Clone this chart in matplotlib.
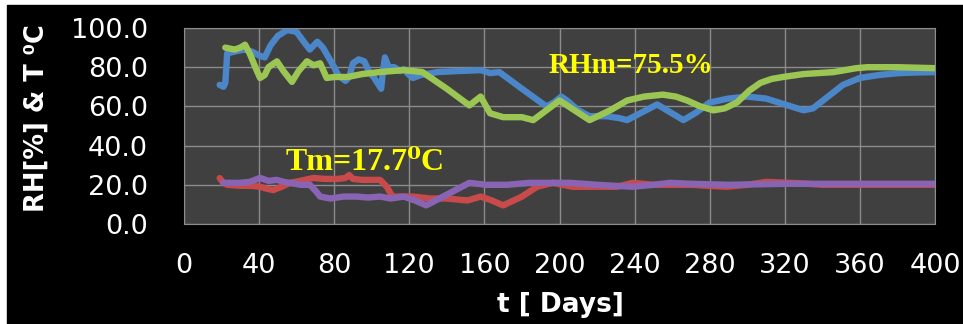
import matplotlib
matplotlib.use("Agg")
import matplotlib.pyplot as plt
from matplotlib.patches import Rectangle

# RH sensor 1 (blue)
rh1_days = [19, 21, 22, 23, 27, 32, 36, 40, 43, 46, 50, 55, 60, 63, 67, 71, 74, 77, 80, 82,
            86, 88, 90, 93, 96, 99, 101, 103, 105, 106, 107, 109, 112, 115, 117, 120, 122, 126,
            135, 145, 158, 163, 168, 180, 193, 197, 201, 204, 210, 216, 225, 232, 236, 244,
            252, 259, 266, 273, 280, 290, 300, 310, 320, 330, 335, 343, 351, 360, 370, 381,
            390, 400]
rh1_vals = [71, 70, 72, 87, 88, 89, 88, 86, 85, 91, 96, 99, 98, 94, 89, 93, 90, 85, 80, 76,
            73, 75, 82, 84, 83, 77, 75, 72, 69, 78, 85, 80, 80, 78, 79, 76, 74.5, 76,
            77.5, 78, 78.5, 77, 77.5, 69, 60, 62, 65, 63, 58, 55, 55, 54, 53, 57,
            61, 57, 53, 57, 62, 64, 65, 64, 61, 58, 59, 65, 71, 74.5, 76, 77,
            77.3, 77.5]

# temperature sensor 1 (red)
t1_days = [19, 21, 23, 30, 36, 40.5, 44, 47.5, 52, 56.5, 62, 69, 75, 82, 86, 88, 90, 95,
           104.5, 108, 111, 122, 131, 140, 151, 158, 164, 170, 180, 188, 196.5, 207, 220,
           230.5, 239, 250, 270, 289, 300, 310, 328, 340, 400]
t1_vals = [23.4, 21, 20, 19.5, 19.5, 19, 18, 17.3, 19, 21, 22, 23.5, 23, 23, 23.5, 25, 23, 22.5,
           22.5, 19, 14, 14, 13, 13, 12, 14, 12, 9.5, 14, 19, 21, 19, 19,
           19, 21, 20, 20, 19, 20, 21.5, 20.8, 20, 20]

# RH sensor 2 (green)
rh2_days = [22, 27, 30, 32.5, 35, 38, 40.5, 43, 45, 49.5, 53, 57.5, 61, 65.5, 69, 72.5, 76,
            80, 87, 95, 104, 117, 127, 140, 152, 158, 163, 170, 180, 186, 200, 216, 227,
            236, 245, 255, 262, 268, 275, 282, 288, 294.5, 301, 307, 313, 319, 330, 346,
            358, 364, 380, 400]
rh2_vals = [90, 89, 90, 91.5, 87, 80, 74.5, 76, 80, 83, 78, 72.5, 78, 83, 81, 82, 74.5,
            75, 75, 76.5, 77.5, 78.5, 77.5, 69, 60.5, 65, 56.5, 54.5, 54.5, 53, 63, 53, 58,
            63, 65, 66, 65, 63, 60, 58, 59, 62, 68, 72, 74, 75, 76.5, 77.5,
            79.5, 80, 80, 79.5]

# temperature sensor 2 (purple)
t2_days = [21, 30, 35, 40.5, 45, 49.5, 53, 56.5, 62, 67, 70, 72.5, 78, 85, 92, 98, 104.5,
           110, 117, 123, 129, 140, 152, 161, 172, 184, 195, 205.5, 220, 239, 250, 259,
           270, 290, 320, 360, 400]
t2_vals = [21, 21, 21.5, 23.5, 22, 22.5, 21.5, 21, 20, 20, 17, 14, 13, 14, 14, 13.5, 14,
           13, 14, 12, 9.5, 15, 21, 20, 20, 21, 21, 21, 20, 19, 20, 21,
           20.5, 20, 20.5, 20.5, 20.5]

x_ticks = list(range(0, 401, 40))
y_ticks = [0, 20, 40, 60, 80, 100]

fig = plt.figure(figsize=(9.63, 3.24), dpi=100, facecolor="white")
fig.patches.append(Rectangle((7 / 963, 0), 1 - 7 / 963, 1 - 5 / 324,
                             transform=fig.transFigure, color="black", zorder=-1))

ax = fig.add_axes([184 / 963, 1 - 224 / 324, 751 / 963, 196 / 324])
ax.set_facecolor("#404040")

lw = 4.6
kw = dict(linewidth=lw, solid_capstyle="round", solid_joinstyle="round")
ax.plot(rh1_days, rh1_vals, color="#4a86c8", **kw)
ax.plot(t1_days, t1_vals, color="#c84a4a", **kw)
ax.plot(rh2_days, rh2_vals, color="#9cc653", **kw)
ax.plot(t2_days, t2_vals, color="#8a64b4", **kw)

ax.set_xlim(0, 400)
ax.set_ylim(0, 100)
ax.set_xticks(x_ticks)
ax.set_yticks(y_ticks)
ax.set_yticklabels([f"{v:.1f}" for v in y_ticks])
ax.grid(True, color="#8c8c8c", linewidth=1)
ax.set_axisbelow(True)
for s in ax.spines.values():
    s.set_color("#8c8c8c")
ax.tick_params(axis="both", length=0, colors="white", labelsize=19.5)
ax.tick_params(axis="y", pad=26)
ax.tick_params(axis="x", pad=21)

ax.text(54, 27.5, "Tm=17.7\u2070C", color="#ffff00", fontsize=23, fontweight="bold",
        family=["Liberation Serif", "DejaVu Serif"], va="baseline")
ax.text(194, 77, "RHm=75.5%", color="#ffff00", fontsize=21, fontweight="bold",
        family=["Liberation Serif", "DejaVu Serif"], va="baseline")

fig.text(37 / 963, 1 - 118 / 324, "RH[%] & T \u2070C", rotation=90, ha="center", va="center",
         color="white", fontsize=18.5, fontweight="bold")
fig.text(560 / 963, 1 - 305 / 324, "t [ Days]", ha="center", va="center",
         color="white", fontsize=19, fontweight="bold")

fig.savefig("out.png", dpi=100, facecolor=fig.get_facecolor())
